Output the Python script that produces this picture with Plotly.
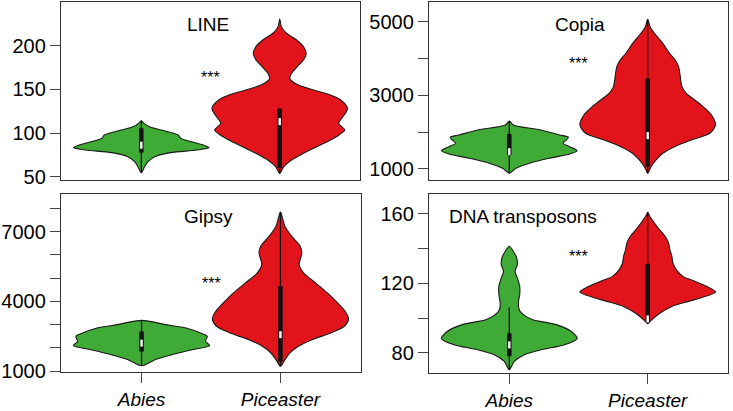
import plotly.graph_objects as go

groups = ["Abies", "Piceaster"]
titles = ["LINE", "Copia", "Gipsy", "DNA transposons"]
colors = ["#3FAA35", "#E3131B"]

# density outlines: y levels and relative half-widths
line_abies_y = [54.5, 61.4, 67.2, 72.9, 77.5, 80.5, 83.2, 86.3, 90.0, 93.9, 97.7, 103.4, 107.2, 111.1, 114.1]
line_abies_w = [0, 10, 20, 40, 88, 165, 202, 185, 150, 118, 110, 60, 25, 8, 0]
line_pice_y = [53.8, 61.4, 69.1, 76.7, 84.3, 92.0, 97.7, 103.4, 111.1, 120.6, 128.3, 137.8, 143.5, 149.3, 155.0, 161.9, 168.4, 176.0, 183.6, 191.3, 198.9, 206.5, 214.2, 221.8, 230.6]
line_pice_w = [0, 12, 35, 70, 110, 150, 175, 192, 174, 190, 200, 180, 150, 100, 55, 30, 35, 52, 70, 78, 70, 50, 20, 5, 0]

copia_abies_y = [884, 1019, 1155, 1291, 1408, 1497, 1606, 1698, 1788, 1861, 1924, 2059, 2195, 2304]
copia_abies_w = [0, 20, 60, 120, 180, 202, 180, 160, 170, 176, 150, 93, 12, 0]
copia_pice_y = [884, 1063, 1244, 1425, 1606, 1788, 1969, 2195, 2467, 2693, 2874, 3054, 3235, 3507, 3778, 3960, 4142, 4413, 4685, 4864, 5065]
copia_pice_w = [0, 10, 25, 45, 80, 130, 185, 202, 190, 165, 140, 115, 102, 97, 92, 82, 65, 45, 20, 7, 0]

gipsy_abies_y = [1229, 1487, 1702, 1918, 2090, 2279, 2494, 2637, 2852, 2995, 3180]
gipsy_abies_w = [0, 40, 90, 150, 202, 190, 195, 175, 132, 72, 0]
gipsy_pice_y = [1203, 1487, 1775, 2064, 2348, 2637, 2925, 3240, 3571, 3929, 4360, 4790, 5221, 5579, 5794, 6083, 6371, 6802, 7233, 7836]
gipsy_pice_w = [0, 13, 28, 53, 93, 148, 188, 200, 190, 168, 138, 103, 68, 55, 58, 63, 58, 33, 13, 0]

dna_abies_y = [70.2, 75.0, 78.8, 81.7, 84.6, 88.1, 92.2, 96.2, 99.0, 101.5, 104.5, 108.7, 113.4, 118.3, 123.1, 126.9, 130.8, 134.6, 138.5, 141.4]
dna_abies_w = [0, 15, 45, 95, 165, 202, 185, 140, 70, 45, 30, 27, 31, 31, 24, 17, 24, 22, 12, 0]
dna_pice_y = [96.7, 99.0, 102.9, 106.7, 110.6, 115.0, 118.3, 121.2, 124.0, 127.9, 131.7, 135.6, 139.4, 143.3, 147.1, 151.0, 154.8, 158.7, 161.0]
dna_pice_w = [0, 12, 37, 72, 140, 202, 175, 140, 105, 85, 75, 72, 66, 62, 52, 35, 20, 6, 0]

# box statistics: whisker low, q1, median, q3, whisker high
line_abies_box = [54.5, 77.5, 86, 105.5, 114]
line_pice_box = [54, 60, 113, 128, 128]
copia_abies_box = [884, 1372, 1470, 1951, 2304]
copia_pice_box = [884, 1063, 1905, 3463, 5065]
gipsy_abies_box = [1229, 1840, 2200, 2700, 3180]
gipsy_pice_box = [1203, 1400, 2563, 4648, 7836]
dna_abies_box = [70.2, 78, 84.5, 91.2, 106]
dna_pice_box = [96.7, 98.1, 99.5, 131.3, 161]

stars_y = [168.7, 3960, 4920, 137.5]

y_ranges = [[46.2, 250], [700, 5535], [957, 8616], [68.3, 171.5]]
y_tickvals = [[50, 100, 150, 200], [1000, 2000, 3000, 4000, 5000],
              [1000, 2000, 3000, 4000, 5000, 6000, 7000, 8000], [80, 100, 120, 140, 160]]
y_ticktext = [["50", "100", "150", "200"], ["1000", "", "3000", "", "5000"],
              ["1000", "", "", "4000", "", "", "7000", ""], ["80", "", "120", "", "160"]]

profiles = [
    [(line_abies_y, line_abies_w, line_abies_box), (line_pice_y, line_pice_w, line_pice_box)],
    [(copia_abies_y, copia_abies_w, copia_abies_box), (copia_pice_y, copia_pice_w, copia_pice_box)],
    [(gipsy_abies_y, gipsy_abies_w, gipsy_abies_box), (gipsy_pice_y, gipsy_pice_w, gipsy_pice_box)],
    [(dna_abies_y, dna_abies_w, dna_abies_box), (dna_pice_y, dna_pice_w, dna_pice_box)],
]

FONT = "Liberation Sans, Arial, sans-serif"
MAXW = 0.49
fig = go.Figure()

for p, pair in enumerate(profiles):
    xa = "x" if p == 0 else f"x{p+1}"
    ya = "y" if p == 0 else f"y{p+1}"
    for g, (ys, ws, box) in enumerate(pair):
        c = g + 1
        m = max(ws)
        hw = [MAXW * w / m for w in ws]
        xs = [c - h for h in hw] + [c + h for h in hw[::-1]][1:]
        yy = list(ys) + list(ys[::-1])[1:]
        fig.add_trace(go.Scatter(x=xs, y=yy, xaxis=xa, yaxis=ya, mode="lines",
                                 fill="toself", fillcolor=colors[g],
                                 line=dict(color="#1a1a1a", width=1.1, shape="spline", smoothing=0.8),
                                 hoverinfo="skip", showlegend=False))
        lo, q1, med, q3, hi = box
        fig.add_trace(go.Scatter(x=[c, c], y=[lo, hi], xaxis=xa, yaxis=ya, mode="lines",
                                 line=dict(color="#111", width=1.3), showlegend=False, hoverinfo="skip"))
        fig.add_trace(go.Scatter(x=[c, c], y=[q1, q3], xaxis=xa, yaxis=ya, mode="lines",
                                 line=dict(color="#111", width=4.5), showlegend=False, hoverinfo="skip"))
        fig.add_trace(go.Scatter(x=[c], y=[med], xaxis=xa, yaxis=ya, mode="markers",
                                 marker=dict(symbol="line-ns", size=5, color="white",
                                             line=dict(color="white", width=2.4)),
                                 showlegend=False, hoverinfo="skip"))

W, H = 733, 411
px_x = [(61, 360), (429, 728), (61, 361), (429, 728)]
px_y = [(2, 180), (2, 180), (194, 372), (194, 373)]

layout = dict(width=W, height=H, margin=dict(l=0, r=0, t=0, b=0),
              paper_bgcolor="white", plot_bgcolor="white",
              font=dict(family=FONT, size=19, color="black"))
for p in range(4):
    sx = "xaxis" if p == 0 else f"xaxis{p+1}"
    sy = "yaxis" if p == 0 else f"yaxis{p+1}"
    ya = "y" if p == 0 else f"y{p+1}"
    xa = "x" if p == 0 else f"x{p+1}"
    bottom = p >= 2
    layout[sx] = dict(domain=[px_x[p][0] / W, px_x[p][1] / W], range=[0.42, 2.58], anchor=ya,
                      showgrid=False, zeroline=False, showline=True, mirror=True,
                      linecolor="#333", linewidth=1.3, automargin=False,
                      tickvals=[1, 2] if bottom else [],
                      ticktext=[f"<i>{g}</i>" for g in groups] if bottom else [],
                      ticks="outside" if bottom else "", ticklen=10, tickcolor="#444", tickwidth=1.2,
                      showticklabels=bottom, tickfont=dict(size=19))
    layout[sy] = dict(domain=[1 - px_y[p][1] / H, 1 - px_y[p][0] / H], range=y_ranges[p], anchor=xa,
                      showgrid=False, zeroline=False, showline=True, mirror=True,
                      linecolor="#333", linewidth=1.3, automargin=False,
                      tickvals=y_tickvals[p], ticktext=y_ticktext[p],
                      ticks="outside", ticklen=10, tickcolor="#444", tickwidth=1.2,
                      tickfont=dict(size=20))
fig.update_layout(**layout)

title_x = [0.49, 0.505, 0.49, 0.06]
title_anchor = ["center", "center", "center", "left"]
for p in range(4):
    xa = "x" if p == 0 else f"x{p+1}"
    ya = "y" if p == 0 else f"y{p+1}"
    fig.add_annotation(text=titles[p], xref=f"{xa} domain", yref=f"{ya} domain",
                       x=title_x[p], y=0.872, xanchor=title_anchor[p], yanchor="middle",
                       showarrow=False, font=dict(size=19))
    fig.add_annotation(text="***", xref=xa, yref=ya, x=1.5, y=stars_y[p],
                       xanchor="center", yanchor="middle", yshift=-4,
                       showarrow=False, font=dict(size=16))

fig.write_html("out.html", config={"displayModeBar": False},
               post_script="document.body.style.margin='0px';")
